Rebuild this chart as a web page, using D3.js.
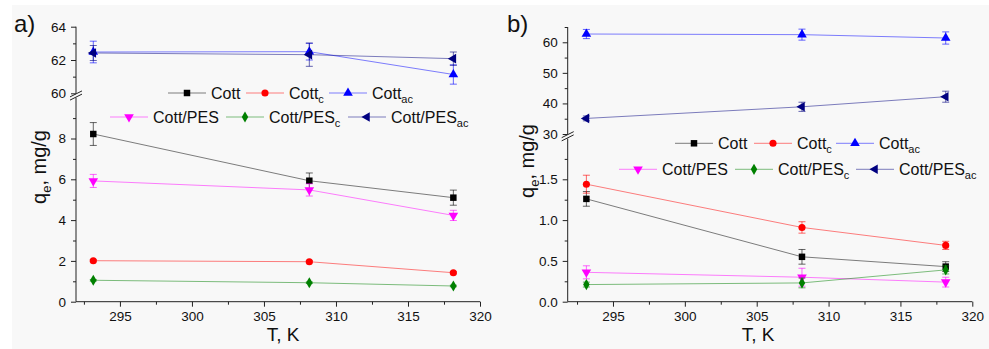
<!DOCTYPE html>
<html>
<head>
<meta charset="utf-8">
<script src="https://cdn.jsdelivr.net/npm/d3@7"></script>
<style>
  body { margin: 0; background: #fff; }
  text { font-family: "Liberation Sans", Arial, sans-serif; fill: #111; }
</style>
</head>
<body>
<svg id="vis-svg"></svg>
<script>
// temperatures, K
const temps = [293.15, 308.15, 318.15];

// a) q_e values and errors, mg/g
const aCott = [8.22, 5.93, 5.10];
const aCottErr = [0.56, 0.38, 0.37];
const aCottC = [2.01, 1.96, 1.42];
const aCottCErr = [0.05, 0.05, 0.05];
const aCottAc = [62.48, 62.50, 61.13];
const aCottAcErr = [0.65, 0.50, 0.58];
const aPes = [5.92, 5.48, 4.23];
const aPesErr = [0.32, 0.30, 0.25];
const aPesC = [1.05, 0.93, 0.77];
const aPesCErr = [0.04, 0.04, 0.04];
const aPesAc = [62.42, 62.32, 62.08];
const aPesAcErr = [0.45, 0.70, 0.40];

// b) q_e values and errors, mg/g
const bCott = [1.26, 0.55, 0.43];
const bCottErr = [0.09, 0.09, 0.06];
const bCottC = [1.44, 0.91, 0.69];
const bCottCErr = [0.11, 0.07, 0.05];
const bCottAc = [62.7, 62.5, 61.4];
const bCottAcErr = [1.5, 1.8, 2.0];
const bPes = [0.36, 0.30, 0.24];
const bPesErr = [0.08, 0.11, 0.06];
const bPesC = [0.21, 0.23, 0.39];
const bPesCErr = [0.03, 0.06, 0.05];
const bPesAc = [35.1, 38.9, 42.2];
const bPesAcErr = [0.8, 1.5, 1.8];

// tick labels
const xTicks = [295, 300, 305, 310, 315, 320];
const aLowerTicks = [0, 2, 4, 6, 8];
const aUpperTicks = [60, 62, 64];
const bLowerTicks = [0, 0.5, 1.0, 1.5];
const bUpperTicks = [30, 40, 50, 60];

// series names: [main, subscript]
const names = [["Cott", ""], ["Cott", "c"], ["Cott", "ac"],
               ["Cott/PES", ""], ["Cott/PES", "c"], ["Cott/PES", "ac"]];

// styles per series (same order as names)
const styles = [
    { color: "#000000", sym: d3.symbolSquare, size: 42, rot: 0 },
    { color: "#ff0000", sym: d3.symbolCircle, size: 40, rot: 0 },
    { color: "#0000ff", sym: d3.symbolTriangle, size: 40, rot: 0 },
    { color: "#ff00ff", sym: d3.symbolTriangle, size: 40, rot: 180 },
    { color: "#008000", sym: d3.symbolDiamond, size: 36, rot: 0 },
    { color: "#000080", sym: d3.symbolTriangle, size: 40, rot: -90 }
];

const W = 989, H = 349;
const svg = d3.select("#vis-svg").attr("width", W).attr("height", H);

svg.append("rect").attr("x", 12).attr("y", 5)
    .attr("width", W - 12).attr("height", H - 5).attr("fill", "#f8f8f8");

const panels = [
    {
        label: "a)", lx: 14, ly: 32,
        x0: 76, x1: 480, xDom: [291.95, 320],
        yBot: 301.7, lowerDom: [0, 10], lowerTop: 97.7, lowerTicks: aLowerTicks, lowerMinor: [1, 3, 5, 7, 9], lowerFmt: d3.format("d"),
        upperDom: [60, 64], upperBot: 93.3, upperTop: 26.7, upperTicks: aUpperTicks, upperMinor: [61, 63], upperFmt: d3.format("d"),
        vals: [aCott, aCottC, aCottAc, aPes, aPesC, aPesAc],
        errs: [aCottErr, aCottCErr, aCottAcErr, aPesErr, aPesCErr, aPesAcErr],
        upperSet: [false, false, true, false, false, true],
        ytX: 46, ytY: 167, xtX: 283,
        legend: [[211, 93], [289, 93], [372, 93], [153, 117], [269, 117], [391, 117]]
    },
    {
        label: "b)", lx: 507, ly: 32,
        x0: 567.7, x1: 972.3, xDom: [291.85, 320],
        yBot: 301.7, lowerDom: [0, 2], lowerTop: 138.5, lowerTicks: bLowerTicks, lowerMinor: [0.25, 0.75, 1.25, 1.75], lowerFmt: d3.format(".1f"),
        upperDom: [30, 65], upperBot: 134, upperTop: 27, upperTicks: bUpperTicks, upperMinor: [35, 45, 55, 65], upperFmt: d3.format("d"),
        vals: [bCott, bCottC, bCottAc, bPes, bPesC, bPesAc],
        errs: [bCottErr, bCottCErr, bCottAcErr, bPesErr, bPesCErr, bPesAcErr],
        upperSet: [false, false, true, false, false, true],
        ytX: 534, ytY: 161, xtX: 758,
        legend: [[718, 143.3], [797, 143.3], [879, 143.3], [662, 169.3], [778, 169.3], [899, 169.3]]
    }
];

function marker(g, st, x, y) {
    g.append("path")
        .attr("d", d3.symbol().type(st.sym).size(st.size))
        .attr("transform", "translate(" + x + "," + y + ") rotate(" + st.rot + ")")
        .attr("fill", st.color);
}

function seriesText(g, x, y, name) {
    const t = g.append("text").attr("x", x).attr("y", y).style("font-size", "16px");
    t.append("tspan").text(name[0]);
    if (name[1]) t.append("tspan").attr("dy", 4).style("font-size", "11px").text(name[1]);
}

panels.forEach(function (p) {
    const g = svg.append("g");
    const x = d3.scaleLinear().domain(p.xDom).range([p.x0, p.x1]);
    const yLow = d3.scaleLinear().domain(p.lowerDom).range([p.yBot, p.lowerTop]);
    const yUp = d3.scaleLinear().domain(p.upperDom).range([p.upperBot, p.upperTop]);

    // x axis
    const xMinor = xTicks.map(d => d - 2.5);
    g.append("g").attr("transform", "translate(0," + p.yBot + ")")
        .call(d3.axisBottom(x).tickValues(xMinor).tickSize(3).tickFormat(""))
        .call(a => a.select(".domain").remove());
    g.append("g").attr("transform", "translate(0," + p.yBot + ")")
        .call(d3.axisBottom(x).tickValues(xTicks).tickSize(5).tickPadding(5).tickSizeOuter(0))
        .call(a => a.select(".domain").attr("d", "M" + p.x0 + ",0H" + p.x1));

    // y axes (two segments with a break)
    [[yLow, p.lowerTicks, p.lowerMinor, p.lowerFmt], [yUp, p.upperTicks, p.upperMinor, p.upperFmt]].forEach(function (s) {
        const ax = g.append("g").attr("transform", "translate(" + p.x0 + ",0)");
        ax.call(d3.axisLeft(s[0]).tickValues(s[1]).tickSize(5).tickPadding(5).tickFormat(s[3]).tickSizeOuter(0));
        ax.select(".domain").attr("d", "M0," + s[0].range()[0] + "V" + s[0].range()[1]);
        ax.append("g").call(d3.axisLeft(s[0]).tickValues(s[2]).tickSize(3).tickFormat(""))
            .call(a => a.select(".domain").remove());
    });
    g.selectAll(".tick text").style("font-size", "13.5px").attr("fill", "#111")
        .style("font-family", "'Liberation Sans', Arial, sans-serif");
    g.selectAll(".domain, .tick line").attr("stroke", "#222");

    // break marks
    const by = (p.lowerTop + p.upperBot) / 2;
    [-1.6, 1.6].forEach(function (d) {
        g.append("line")
            .attr("x1", p.x0 - 6).attr("y1", by + d + 3)
            .attr("x2", p.x0 + 6).attr("y2", by + d - 3)
            .attr("stroke", "#222").attr("stroke-width", 1);
    });

    // axis titles
    const yt = g.append("text")
        .attr("transform", "translate(" + p.ytX + "," + p.ytY + ") rotate(-90)")
        .attr("text-anchor", "middle").style("font-size", "20px");
    yt.append("tspan").text("q");
    yt.append("tspan").attr("dy", 5).style("font-size", "13px").text("e");
    yt.append("tspan").attr("dy", -5).text(", mg/g");

    g.append("text").attr("x", p.xtX).attr("y", 341).attr("text-anchor", "middle")
        .style("font-size", "19px").text("T, K");
    g.append("text").attr("x", p.lx).attr("y", p.ly).style("font-size", "24px").text(p.label);

    // series
    p.vals.forEach(function (v, i) {
        const st = styles[i];
        const y = p.upperSet[i] ? yUp : yLow;
        const pts = temps.map((t, j) => ({ t: t, v: v[j], e: p.errs[i][j] }));
        g.append("path").datum(pts)
            .attr("d", d3.line().x(d => x(d.t)).y(d => y(d.v)))
            .attr("fill", "none").attr("stroke", st.color)
            .attr("stroke-opacity", 0.5).attr("stroke-width", 1);
        pts.forEach(function (d) {
            const cx = x(d.t);
            g.append("path")
                .attr("d", "M" + cx + "," + y(d.v - d.e) + "V" + y(d.v + d.e) +
                    "M" + (cx - 3.5) + "," + y(d.v - d.e) + "h7" +
                    "M" + (cx - 3.5) + "," + y(d.v + d.e) + "h7")
                .attr("stroke", st.color).attr("stroke-opacity", 0.6)
                .attr("stroke-width", 1).attr("fill", "none");
        });
        pts.forEach(d => marker(g, st, x(d.t), y(d.v)));
    });

    // legend
    p.legend.forEach(function (pos, i) {
        const st = styles[i];
        const lx = pos[0] - 43, ly = pos[1];
        g.append("line").attr("x1", lx).attr("x2", lx + 38).attr("y1", ly).attr("y2", ly)
            .attr("stroke", st.color).attr("stroke-opacity", 0.5);
        marker(g, st, lx + 19, ly);
        seriesText(g, pos[0], ly + 6, names[i]);
    });
});
</script>
</body>
</html>
